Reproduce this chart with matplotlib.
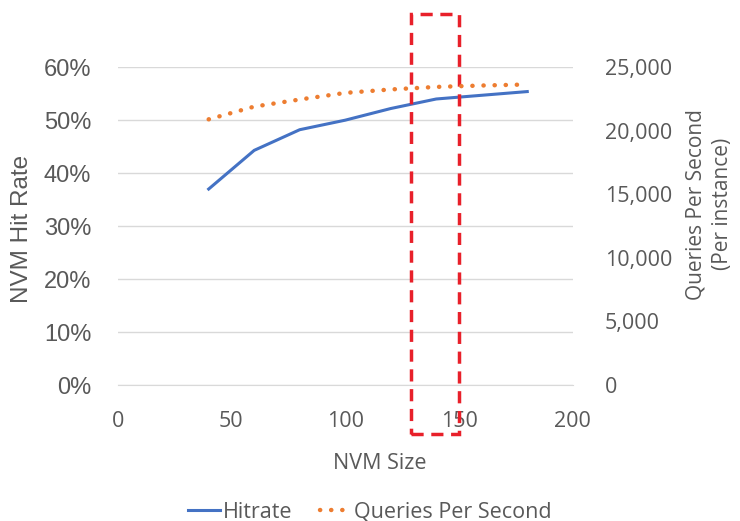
import matplotlib.pyplot as plt
from matplotlib.patches import Rectangle
from matplotlib.ticker import FuncFormatter

nvm_size = [40, 60, 80, 100, 120, 140, 160, 180]
hitrate = [37.0, 44.3, 48.2, 50.0, 52.2, 54.0, 54.7, 55.4]
qps = [20900, 21900, 22460, 22980, 23250, 23450, 23560, 23640]

GRAY = '#595959'
BLUE = '#4472C4'
ORANGE = '#ED7D31'
SANS2 = ['Open Sans', 'DejaVu Sans']

plt.rcParams['font.family'] = ['Liberation Sans', 'DejaVu Sans']

fig = plt.figure(figsize=(7.4, 5.21), dpi=100)
ax = fig.add_axes([0.159, 0.261, 0.615, 0.61])
ax2 = ax.twinx()

l1, = ax.plot(nvm_size, hitrate, color=BLUE, lw=2.2, label='Hitrate')
l2, = ax2.plot(nvm_size, qps, color=ORANGE, lw=3.2, ls=(0, (0.05, 2.45)),
               dash_capstyle='round', label='Queries Per Second')

ax.set_xlim(0, 200)
ax.set_ylim(0, 60)
ax2.set_ylim(0, 25000)
ax.set_xticks([0, 50, 100, 150, 200])
ax.set_yticks(range(0, 61, 10))
ax2.set_yticks(range(0, 25001, 5000))
ax.yaxis.set_major_formatter(FuncFormatter(lambda v, p: f'{v:.0f}%'))
ax2.yaxis.set_major_formatter(FuncFormatter(lambda v, p: f'{v:,.0f}'))

ax.grid(axis='y', color='#D9D9D9', lw=1)
ax.set_axisbelow(True)
for a in (ax, ax2):
    for s in a.spines.values():
        s.set_visible(False)
    a.tick_params(length=0, colors=GRAY)
ax.spines['bottom'].set_visible(True)
ax.spines['bottom'].set_color('#D9D9D9')

ax.tick_params(axis='y', labelsize=17, pad=19)
ax.tick_params(axis='x', labelsize=15.5, pad=19)
ax2.tick_params(axis='y', labelsize=15.5, pad=23)
for t in ax.get_xticklabels() + ax2.get_yticklabels():
    t.set_family(SANS2)

ax.set_xlabel('NVM Size', color=GRAY, fontsize=15.5, family=SANS2)
ax.xaxis.set_label_coords((380 - 118) / 455, -(453 - 385) / 318)
ax.set_ylabel('NVM Hit Rate', color=GRAY, fontsize=17.5)
ax.yaxis.set_label_coords(-(118 - 33) / 455, 0.49)
ax2.set_ylabel('Queries Per Second\n(Per instance)', color=GRAY, fontsize=15,
               family=SANS2, linespacing=1.35, rotation=90)
ax2.yaxis.set_label_coords(1 + (686 - 573) / 455, (385 - 204) / 318)

# red dashed highlight box
ax.add_patch(Rectangle((129, -9.2), 21, 79.2, fill=False, ec='#E8202A',
                       lw=2.5, ls=(0, (3.5, 2.2)), clip_on=False, zorder=5))

leg = fig.legend(handles=[l1, l2], loc='center', ncol=2, frameon=False,
                 bbox_to_anchor=(0.5, (521 - 512) / 521), handlelength=1.5,
                 handletextpad=0.1, columnspacing=1.3,
                 prop={'family': SANS2, 'size': 15.5})
for t in leg.get_texts():
    t.set_color(GRAY)

fig.savefig('out.png', dpi=100)
